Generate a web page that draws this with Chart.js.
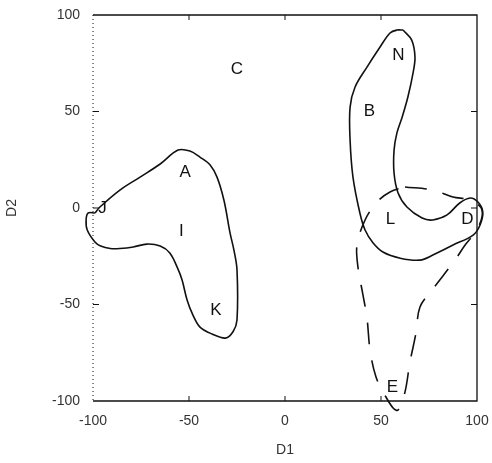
<!DOCTYPE html>
<html>
<head>
<meta charset="utf-8">
<script src="https://cdn.jsdelivr.net/npm/chart.js@4.4.1/dist/chart.umd.min.js"></script>
<style>
    html, body { margin: 0; padding: 0; background: #fff; }
    #wrap { width: 492px; height: 463px; }
</style>
</head>
<body>
<div id="wrap"><canvas id="chartCanvas"></canvas></div>
<script>
// Left region contour (A, J, I, K)
const leftX = [-99, -96.4, -86, -75.5, -65, -55.7, -49.5, -44.3, -39, -35.4, -31.8, -28.6, -26.6, -25, -25, -27, -31, -38, -44.3, -48, -51, -53.6, -56, -60, -65, -72, -79, -86, -91, -96, -99, -103, -103.6, -102.6, -99];
const leftY = [-2.6, 0.5, 9.3, 16, 22.8, 30, 29.5, 26.4, 22.3, 16, 4, -13, -21.8, -32, -58, -64, -67.4, -65.3, -61.7, -55.4, -47.7, -37.3, -31, -23.3, -19.7, -18.7, -20.2, -21, -21, -19.7, -17.6, -11.4, -6.2, -2.6, -2.6];

// Right region contour (N, B, L, D)
const rightX = [61.5, 66, 67.7, 66.7, 64, 61, 58.3, 56.8, 56.8, 58.9, 63.5, 71.4, 77, 84.4, 91, 96.4, 100.5, 103, 101.6, 98, 87.5, 77, 70.3, 60, 51, 45.8, 41.7, 39, 35.4, 33.9, 33.9, 36.5, 42.7, 49.5, 54.7, 58.3, 61.5];
const rightY = [92.2, 87, 78.2, 70, 57.5, 47, 38.9, 30, 18.1, 7.8, 0.5, -5.2, -6.2, -3.6, 2.6, 5.2, 3.1, -2, -8.8, -14, -19.2, -24.4, -27, -26, -22.8, -18, -11.4, -2.6, 16, 35.2, 52.3, 62.7, 73, 83.4, 90.7, 92.2, 92.2];

// Dashed region contour (E)
const dashX = [62.5, 77, 87.5, 96.4, 102.6, 100.5, 93.8, 88.5, 76.6, 70.3, 68.2, 65, 62.5, 58.9, 56.3, 52, 47.4, 44.3, 42.7, 40.6, 38, 37.5, 41.7, 47.9, 54.7, 62.5];
const dashY = [10.9, 9.3, 5.7, 4.1, -1, -10.4, -19.2, -27, -42.5, -51.3, -64.8, -80.3, -95.3, -104.7, -103.6, -96.9, -87.6, -73.6, -57, -45, -30.6, -19.2, -6.2, 3.1, 8.3, 10.9];

// Point labels
const labelNames = ["C", "A", "J", "I", "K", "N", "B", "L", "D", "E"];
const labelX = [-25, -52, -95, -54, -36, 59, 44, 55, 95, 56];
const labelY = [72, 18.5, 0, -12, -53, 79, 50, -6, -6, -93];

const tickValues = [-100, -50, 0, 50, 100];

function toPoints(xs, ys) {
    return xs.map((x, i) => ({ x: x, y: ys[i] }));
}

/**
 * @brief Draws the frame, inward ticks and the region letters.
 */
const framePlugin = {
    id: "frame",
    afterDatasetsDraw(chart) {
        const ctx = chart.ctx;
        const a = chart.chartArea;
        const xs = chart.scales.x;
        const ys = chart.scales.y;
        ctx.save();
        ctx.strokeStyle = "#111";
        ctx.lineWidth = 1.3;
        ctx.beginPath();
        ctx.moveTo(a.left, a.top);
        ctx.lineTo(a.right, a.top);
        ctx.lineTo(a.right, a.bottom);
        ctx.lineTo(a.left, a.bottom);
        ctx.stroke();

        // Left side is dotted
        ctx.lineWidth = 1;
        ctx.setLineDash([1, 3]);
        ctx.beginPath();
        ctx.moveTo(a.left, a.top);
        ctx.lineTo(a.left, a.bottom);
        ctx.stroke();
        ctx.setLineDash([]);

        // Inward ticks
        [-50, 0, 50].forEach(v => {
            const px = xs.getPixelForValue(v);
            const py = ys.getPixelForValue(v);
            ctx.beginPath();
            ctx.moveTo(px, a.top); ctx.lineTo(px, a.top + 5);
            ctx.moveTo(px, a.bottom); ctx.lineTo(px, a.bottom - 5);
            ctx.moveTo(a.left, py); ctx.lineTo(a.left + 6, py);
            ctx.moveTo(a.right, py); ctx.lineTo(a.right - 6, py);
            ctx.stroke();
        });

        // Letters
        ctx.fillStyle = "#111";
        ctx.font = "17px 'Liberation Sans', Arial, sans-serif";
        ctx.textAlign = "center";
        ctx.textBaseline = "middle";
        labelNames.forEach((name, i) => {
            ctx.fillText(name, xs.getPixelForValue(labelX[i]), ys.getPixelForValue(labelY[i]));
        });
        ctx.restore();
    }
};

const lineStyle = {
    showLine: true,
    pointRadius: 0,
    borderColor: "#111",
    borderWidth: 1.6,
    tension: 0.35,
    fill: false,
    clip: false
};

const fontFamily = "'Liberation Sans', Arial, sans-serif";

const ctx = document.getElementById("chartCanvas").getContext("2d");
const chart = new Chart(ctx, {
    type: "scatter",
    data: {
        datasets: [
            Object.assign({ data: toPoints(leftX, leftY) }, lineStyle),
            Object.assign({ data: toPoints(rightX, rightY) }, lineStyle),
            Object.assign({ data: toPoints(dashX, dashY), borderDash: [22, 16], borderWidth: 1.3 }, lineStyle)
        ]
    },
    options: {
        animation: false,
        responsive: true,
        maintainAspectRatio: false,
        layout: {
            padding: { top: 15, right: 15, left: 0, bottom: 0 }
        },
        plugins: {
            legend: { display: false },
            tooltip: { enabled: false }
        },
        scales: {
            x: {
                type: "linear",
                min: -100,
                max: 100,
                afterBuildTicks: s => { s.ticks = tickValues.map(v => ({ value: v })); },
                grid: { display: false, drawTicks: false },
                border: { display: false },
                ticks: {
                    color: "#333",
                    padding: 12,
                    font: { size: 14, family: fontFamily }
                },
                title: {
                    display: true,
                    text: "D1",
                    color: "#333",
                    padding: { top: 10 },
                    font: { size: 14, family: fontFamily }
                },
                afterFit: s => {
                    s.height = 62;
                    s.paddingLeft = 0;
                    s.paddingRight = 0;
                }
            },
            y: {
                type: "linear",
                min: -100,
                max: 100,
                afterBuildTicks: s => { s.ticks = tickValues.map(v => ({ value: v })); },
                grid: { display: false, drawTicks: false },
                border: { display: false },
                ticks: {
                    color: "#333",
                    padding: 13,
                    font: { size: 14, family: fontFamily }
                },
                title: {
                    display: true,
                    text: "D2",
                    color: "#333",
                    padding: { top: 4, bottom: 0 },
                    font: { size: 14, family: fontFamily }
                },
                afterFit: s => {
                    s.width = 93;
                    s.paddingTop = 0;
                    s.paddingBottom = 0;
                }
            }
        }
    },
    plugins: [framePlugin]
});
</script>
</body>
</html>
